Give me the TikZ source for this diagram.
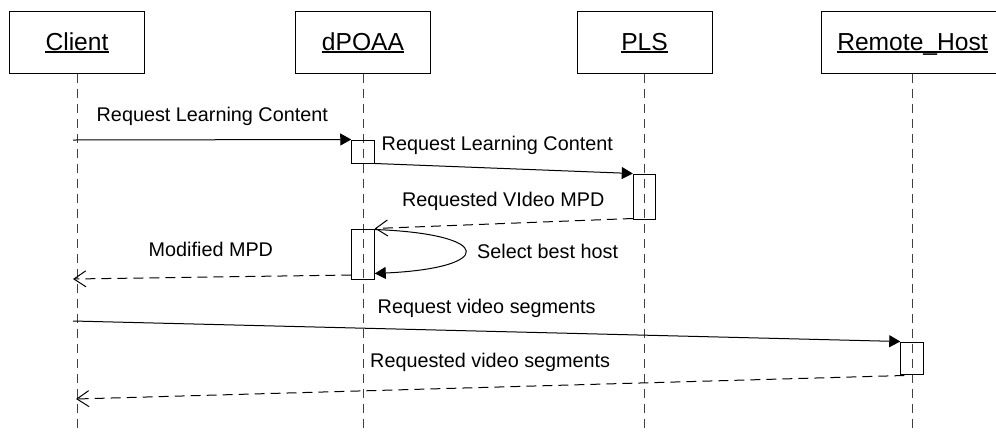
\documentclass[tikz,border=0pt]{standalone}
\usepackage{fontspec}
\setmainfont{Liberation Sans}
\usetikzlibrary{arrows.meta}
\begin{document}
\begin{tikzpicture}[x=1pt,y=-1pt,
  head/.style={draw, line width=1pt, minimum width=135pt, minimum height=62pt, inner sep=0pt},
  title/.style={font=\fontsize{24.6}{28}\selectfont, inner sep=0pt, anchor=base},
  uline/.style={line width=1.2pt},
  life/.style={line width=1pt, dash pattern=on 9pt off 6pt, black!75},
  act/.style={draw, line width=1pt, minimum width=22.5pt, inner sep=0pt},
  msg/.style={font=\fontsize{19.8}{24}\selectfont, inner sep=0pt, anchor=base west},
  call/.style={line width=1pt, -{Triangle[length=11pt,width=12pt]}},
  ret/.style={line width=1pt, dash pattern=on 10pt off 6pt, -{Straight Barb[length=12pt,width=16pt]}}
]
\clip (0,0) rectangle (996,432);
\fill[white] (0,0) rectangle (996,432);

% heads
\node[head] (hc) at (76.5,42) {};
\node[head] (hd) at (363,42) {};
\node[head] (hp) at (644.5,42) {};
\node[head, minimum width=182pt] (hr) at (912,42) {};

\node[title] (tc) at (77,50) {Client};
\node[title] (td) at (363,50) {dPOAA};
\node[title] (tp) at (644.5,50) {PLS};
\node[title] (tr) at (912.5,50) {Remote\_Host};
\foreach \t in {tc,td,tp,tr}
  \draw[uline] ([yshift=-2pt]\t.base west) -- ([yshift=-2pt]\t.base east);

% lifelines
\coordinate (ec) at (77,432);
\coordinate (ed) at (363,432);
\coordinate (ep) at (644.5,432);
\coordinate (er) at (912,432);
\draw[life] (hc.south -| ec) -- (ec);
\draw[life] (hd.south) -- (ed);
\draw[life] (hp.south) -- (ep);
\draw[life] (hr.south) -- (er);

% activations
\node[act, minimum height=23pt] (a1) at (363,151.5) {};
\node[act, minimum height=45pt] (ap) at (644.5,196.5) {};
\node[act, minimum height=50pt] (a2) at (363,254) {};
\node[act, minimum height=32pt] (ar) at (912,358) {};

% free ends on the client lifeline
\coordinate (c1) at (73,140);
\coordinate (c5) at (73,279);
\coordinate (c6) at (73,321);
\coordinate (c7) at (76,399);

% messages
\draw[call] (c1) -- (a1.north west);
\node[msg] (l1) at (96.5,121) {Request Learning Content};

\draw[call] (a1.south east) -- (ap.north west);
\node[msg] (l2) at (381.5,150.5) {Request Learning Content};

\draw[ret] ([yshift=1pt]ap.south west) -- (a2.north east);
\node[msg] (l3) at (401.8,206) {Requested VIdeo MPD};

\draw[call] ([yshift=-1pt]a2.north east) .. controls (495,234) and (495,268) .. ([yshift=6pt]a2.south east);
\node[msg] (l4) at (477,258.5) {Select best host};

\draw[ret] ([yshift=4.5pt]a2.south west) -- (c5);
\node[msg] (l5) at (148.5,256) {Modified MPD};

\draw[call] (c6) -- (ar.north west);
\node[msg] (l6) at (377.5,313) {Request video segments};

\draw[ret] ([xshift=4pt,yshift=-1pt]ar.south west) -- (c7);
\node[msg] (l7) at (370,367) {Requested video segments};
\end{tikzpicture}
\end{document}
